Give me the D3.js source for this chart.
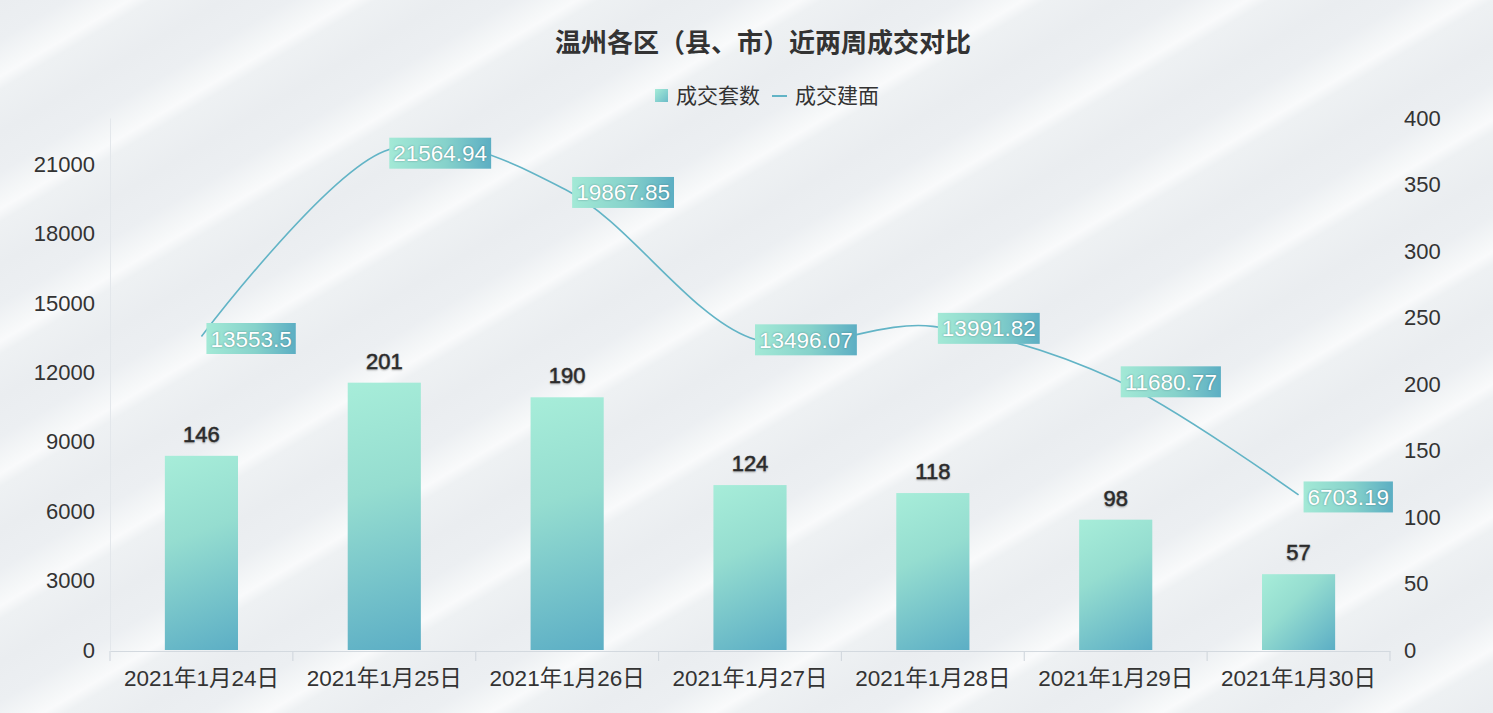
<!DOCTYPE html>
<html>
<head>
<meta charset="utf-8">
<script src="https://cdn.jsdelivr.net/npm/d3@7/dist/d3.min.js"></script>
<style>
  html, body { margin: 0; padding: 0; background: #edf0f3; }
  svg { display: block; }
  text { font-family: "Liberation Sans", Arial, "Noto Sans CJK SC", sans-serif; }
</style>
</head>
<body>
<svg id="chart" width="1493" height="713"></svg>
<script>
// data
const dates = ["2021年1月24日", "2021年1月25日", "2021年1月26日", "2021年1月27日",
               "2021年1月28日", "2021年1月29日", "2021年1月30日"];
const units = [146, 201, 190, 124, 118, 98, 57];              // 成交套数 (right axis)
const area = [13553.5, 21564.94, 19867.85, 13496.07, 13991.82, 11680.77, 6703.19]; // 成交建面 (left axis)
const leftTicks = [0, 3000, 6000, 9000, 12000, 15000, 18000, 21000];
const rightTicks = [0, 50, 100, 150, 200, 250, 300, 350, 400];

const svg = d3.select("#chart"),
    width = +svg.attr("width"),
    height = +svg.attr("height");

const margin = { left: 110, right: 103, top: 118, bottom: 63 };
const lineColor = "#62b4c6";
const textColor = "#333";

const defs = svg.append("defs");

// background stripes
const bg = defs.append("linearGradient")
    .attr("id", "bgStripe")
    .attr("gradientUnits", "userSpaceOnUse")
    .attr("spreadMethod", "repeat")
    .attr("x1", 0).attr("y1", 0).attr("x2", 58).attr("y2", 98);
[[0, "#eaedf0"], [0.3, "#eceff2"], [0.5, "#f5f7f8"], [0.58, "#f9fafb"], [0.68, "#eef1f3"], [1, "#eaedf0"]]
    .forEach(s => bg.append("stop").attr("offset", s[0]).attr("stop-color", s[1]));

const labGrad = defs.append("linearGradient")
    .attr("id", "labGrad")
    .attr("x1", 0).attr("y1", 0).attr("x2", 1).attr("y2", 0);
labGrad.append("stop").attr("offset", 0).attr("stop-color", "#a3e9d6");
labGrad.append("stop").attr("offset", 0.55).attr("stop-color", "#86d2cb");
labGrad.append("stop").attr("offset", 1).attr("stop-color", "#5caec3");

const legGrad = defs.append("linearGradient")
    .attr("id", "legGrad")
    .attr("x1", 0).attr("y1", 0).attr("x2", 1).attr("y2", 1);
legGrad.append("stop").attr("offset", 0).attr("stop-color", "#a6ecd8");
legGrad.append("stop").attr("offset", 1).attr("stop-color", "#6cbcc8");

svg.append("rect").attr("width", width).attr("height", height).attr("fill", "url(#bgStripe)");

// scales
const x = d3.scaleBand()
    .domain(dates)
    .range([margin.left, width - margin.right])
    .paddingInner(0).paddingOuter(0);

const yLeft = d3.scaleLinear().domain([0, 23000]).range([height - margin.bottom, margin.top]);
const yRight = d3.scaleLinear().domain([0, 400]).range([height - margin.bottom, margin.top]);

const bottom = height - margin.bottom;

// title
svg.append("text")
    .attr("x", 763).attr("y", 52)
    .attr("text-anchor", "middle")
    .attr("font-size", "26px")
    .attr("font-weight", "bold")
    .attr("fill", textColor)
    .style("font-family", "'Noto Sans CJK SC', sans-serif")
    .text("温州各区（县、市）近两周成交对比");

// legend
const legend = svg.append("g").style("font-family", "'Noto Sans CJK SC', sans-serif");
legend.append("rect").attr("x", 655).attr("y", 89).attr("width", 13).attr("height", 13)
    .attr("fill", "url(#legGrad)");
legend.append("text").attr("x", 676).attr("y", 103).attr("font-size", "21px")
    .attr("fill", textColor).text("成交套数");
legend.append("line").attr("x1", 772).attr("x2", 787).attr("y1", 96).attr("y2", 96)
    .attr("stroke", lineColor).attr("stroke-width", 2);
legend.append("text").attr("x", 795).attr("y", 103).attr("font-size", "21px")
    .attr("fill", textColor).text("成交建面");

// left axis
const gLeft = svg.append("g")
    .attr("transform", `translate(${margin.left},0)`)
    .call(d3.axisLeft(yLeft).tickValues(leftTicks).tickFormat(d3.format("d")).tickSize(0).tickPadding(15));
gLeft.select(".domain").attr("stroke", "#e3e7eb").attr("stroke-width", 1);
gLeft.selectAll("text").attr("font-size", "22px").attr("fill", textColor);

// right axis
const gRight = svg.append("g")
    .attr("transform", `translate(${width - margin.right},0)`)
    .call(d3.axisRight(yRight).tickValues(rightTicks).tickSize(0).tickPadding(14));
gRight.select(".domain").remove();
gRight.selectAll("text").attr("font-size", "22px").attr("fill", textColor);

// bars, each with its own gradient running from top-left to bottom-right
const barW = x.bandwidth() * 0.4;
const barX = i => x(dates[i]) + (x.bandwidth() - barW) / 2;

units.forEach((d, i) => {
    const g = defs.append("linearGradient")
        .attr("id", "barGrad" + i)
        .attr("gradientUnits", "userSpaceOnUse")
        .attr("x1", barX(i)).attr("y1", yRight(d))
        .attr("x2", barX(i) + barW).attr("y2", bottom);
    g.append("stop").attr("offset", 0).attr("stop-color", "#a7edd9");
    g.append("stop").attr("offset", 0.4).attr("stop-color", "#95ddd0");
    g.append("stop").attr("offset", 1).attr("stop-color", "#5caec5");
});

svg.append("g")
    .selectAll("rect")
    .data(units)
    .enter().append("rect")
    .attr("x", (d, i) => barX(i))
    .attr("y", d => yRight(d))
    .attr("width", barW)
    .attr("height", d => bottom - yRight(d))
    .attr("fill", (d, i) => `url(#barGrad${i})`);

svg.append("g")
    .selectAll("text")
    .data(units)
    .enter().append("text")
    .attr("x", (d, i) => x(dates[i]) + x.bandwidth() / 2)
    .attr("y", d => yRight(d) - 14)
    .attr("text-anchor", "middle")
    .attr("font-size", "22px")
    .attr("fill", "#2e2e2e")
    .attr("stroke", "#2e2e2e")
    .attr("stroke-width", 0.5)
    .style("text-shadow", "0 1px 2px rgba(0,0,0,0.25)")
    .text(d => d);

// x axis
const gx = svg.append("g")
    .attr("transform", `translate(0,${bottom + 1})`)
    .call(d3.axisBottom(x).tickSize(0).tickPadding(19));
gx.select(".domain").attr("stroke", "#d3d9df").attr("stroke-width", 1.2);
gx.selectAll("text").attr("font-size", "22.5px").attr("fill", textColor)
    .style("font-family", "'Liberation Sans', 'Noto Sans CJK SC', sans-serif");
// boundary tick marks
gx.append("g").selectAll("line")
    .data(d3.range(dates.length + 1))
    .enter().append("line")
    .attr("x1", i => margin.left + i * x.step())
    .attr("x2", i => margin.left + i * x.step())
    .attr("y1", 0).attr("y2", 10)
    .attr("stroke", "#d3d9df").attr("stroke-width", 1.2);

// line
const cx = (d, i) => x(dates[i]) + x.bandwidth() / 2;
const line = d3.line()
    .x(cx)
    .y(d => yLeft(d))
    .curve(d3.curveCardinal.tension(0));

svg.append("path")
    .datum(area)
    .attr("fill", "none")
    .attr("stroke", lineColor)
    .attr("stroke-width", 1.6)
    .attr("d", line);

// line labels
const lab = svg.append("g")
    .selectAll("g")
    .data(area)
    .enter().append("g")
    .attr("transform", (d, i) => `translate(${cx(d, i) + 5},${yLeft(d) + 2})`);

lab.each(function (d) {
    const g = d3.select(this);
    const rect = g.append("rect").attr("fill", "url(#labGrad)");
    const t = g.append("text")
        .attr("x", 4)
        .attr("y", 8)
        .attr("font-size", "22.5px")
        .attr("fill", "#fff")
        .style("text-shadow", "0 0 2px rgba(40,80,90,0.55)")
        .text(d);
    const w = t.node().getComputedTextLength();
    rect.attr("x", 0).attr("y", -15.5).attr("width", w + 8).attr("height", 31);
});
</script>
</body>
</html>
